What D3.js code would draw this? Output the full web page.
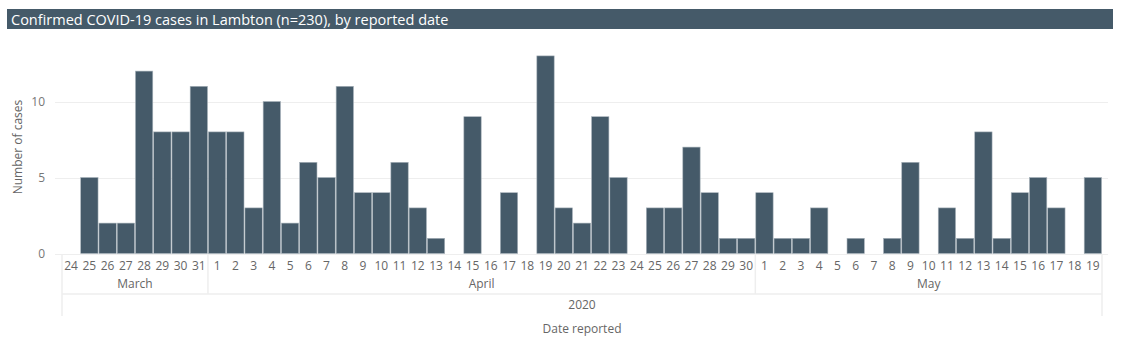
<!DOCTYPE html>
<html><head><meta charset="utf-8">
<script src="https://cdn.jsdelivr.net/npm/d3@7"></script>
<style>
body{margin:0;background:#fff;}
svg text{font-family:"Segoe UI","Open Sans",sans-serif;}
</style></head>
<body><svg id="c" width="1121" height="350"></svg>
<script>
const title = "Confirmed COVID-19 cases in Lambton (n=230), by reported date";
const months = ["March","April","May"];
const year = "2020";
const marchDays = [24,25,26,27,28,29,30,31];
const marchCases = [0,5,2,2,12,8,8,11];
const aprilDays = d3.range(1,31);
const aprilCases = [8,8,3,10,2,6,5,11,4,4,6,3,1,0,9,0,4,0,13,3,2,9,5,0,3,3,7,4,1,1];
const mayDays = d3.range(1,20);
const mayCases = [4,1,1,3,0,1,0,1,6,0,3,1,8,1,4,5,3,0,5];
const yTicks = [0,5,10];
const yTitle = "Number of cases";
const xTitle = "Date reported";

const data = [];
[[months[0],marchDays,marchCases],[months[1],aprilDays,aprilCases],[months[2],mayDays,mayCases]]
  .forEach(([m,ds,cs])=>ds.forEach((d,i)=>data.push({key:m+"-"+d,month:m,day:d,value:cs[i]})));

const svg = d3.select("#c");
const barColor = "#455a69";
const textColor = "#666";
const lineColor = "#eeeeee";

// title bar
svg.append("rect").attr("x",7).attr("y",9).attr("width",1106).attr("height",20).attr("fill",barColor);
svg.append("text").attr("x",11).attr("y",24.5).attr("fill","#fff").attr("font-size",14.5).text(title);

const x = d3.scaleBand().domain(data.map(d=>d.key)).range([62,1102]).paddingInner(0.05).paddingOuter(0.025);
const y = d3.scaleLinear().domain([0,10]).range([253.5,101.5]);

// gridlines
svg.append("g").selectAll("line").data(yTicks).join("line")
  .attr("x1",55).attr("x2",1108).attr("y1",d=>Math.round(y(d))+0.5).attr("y2",d=>Math.round(y(d))+0.5)
  .attr("stroke",lineColor).attr("stroke-width",1);

// y axis labels
svg.append("g").selectAll("text").data(yTicks).join("text")
  .attr("x",45).attr("y",d=>y(d)).attr("dy","0.35em").attr("text-anchor","end")
  .attr("fill","#777").attr("font-size",12).text(d=>d);

svg.append("text").attr("transform","translate(22,147) rotate(-90)").attr("text-anchor","middle")
  .attr("fill",textColor).attr("font-size",12).text(yTitle);

// bars
svg.append("g").selectAll("rect").data(data.filter(d=>d.value>0)).join("rect")
  .attr("x",d=>x(d.key)).attr("width",x.bandwidth())
  .attr("y",d=>y(d.value)).attr("height",d=>y(0)-y(d.value))
  .attr("fill",barColor).attr("stroke","#a9b3bb").attr("stroke-width",0.6);

// day labels
const step = x.step();
svg.append("g").selectAll("text").data(data).join("text")
  .attr("x",d=>x(d.key)+x.bandwidth()/2).attr("y",266).attr("dy","0.35em").attr("text-anchor","middle")
  .attr("fill",textColor).attr("font-size",12).text(d=>d.day);

// hierarchy lines
const left = x.range()[0], right = x.range()[1];
const monthBounds = months.map(m=>{
  const ds = data.filter(d=>d.month===m);
  const a = x(ds[0].key) - (x.step()-x.bandwidth())/2;
  const b = x(ds[ds.length-1].key) + x.bandwidth() + (x.step()-x.bandwidth())/2;
  return {m,a,b};
});
monthBounds[0].a = left; monthBounds[monthBounds.length-1].b = right;
const lg = svg.append("g").attr("stroke",lineColor).attr("stroke-width",1.5);
lg.append("line").attr("x1",left).attr("x2",left).attr("y1",254).attr("y2",316);
lg.append("line").attr("x1",right).attr("x2",right).attr("y1",254).attr("y2",316);
lg.selectAll("line.sep").data(monthBounds.slice(1)).join("line").attr("class","sep")
  .attr("x1",d=>d.a).attr("x2",d=>d.a).attr("y1",254).attr("y2",294);
lg.append("line").attr("x1",left).attr("x2",right).attr("y1",294).attr("y2",294);

svg.append("g").selectAll("text").data(monthBounds).join("text")
  .attr("x",d=>(d.a+d.b)/2).attr("y",284).attr("dy","0.35em").attr("text-anchor","middle")
  .attr("fill",textColor).attr("font-size",12).text(d=>d.m);

svg.append("text").attr("x",(left+right)/2).attr("y",305).attr("dy","0.35em").attr("text-anchor","middle")
  .attr("fill",textColor).attr("font-size",12).text(year);
svg.append("text").attr("x",(left+right)/2).attr("y",329).attr("dy","0.35em").attr("text-anchor","middle")
  .attr("fill",textColor).attr("font-size",12).text(xTitle);
</script></body></html>
